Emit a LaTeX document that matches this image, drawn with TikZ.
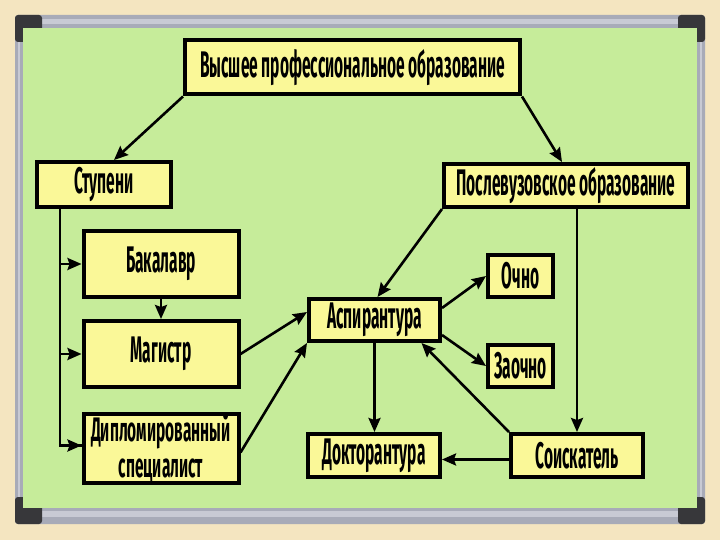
\documentclass[tikz,border=0pt]{standalone}
\usepackage{fontspec}
\setmainfont[FakeStretch=0.42]{Fira Sans}
\newfontfamily\dipfont[FakeStretch=0.455]{Fira Sans}
\usetikzlibrary{arrows.meta}
\definecolor{bgbeige}{RGB}{244,229,192}
\definecolor{framegray}{RGB}{168,171,184}
\definecolor{framelight}{RGB}{200,202,212}
\definecolor{darkcorner}{RGB}{55,55,58}
\definecolor{boardgreen}{RGB}{198,236,154}
\definecolor{boxyellow}{RGB}{250,248,152}
\begin{document}
\begin{tikzpicture}[x=1pt,y=-1pt,
  box/.style={draw=black, line width=4pt, fill=boxyellow, inner sep=0pt, align=center,
    font=\fontsize{37}{33}\selectfont\bfseries},
  conn/.style={line width=2.6pt, -{Stealth[length=14pt,width=12pt,inset=2pt]}},
  plain/.style={line width=2.6pt}]
\useasboundingbox (0,0) rectangle (720,540);
% board
\fill[bgbeige] (0,0) rectangle (720,540);
\fill[framegray, rounded corners=3pt] (15,15) rectangle (705,524);
\fill[framelight] (42,19) rectangle (678,24);
\fill[framelight] (42,511) rectangle (678,517);
\fill[framelight] (18,42) rectangle (20,497);
\fill[framelight] (700,42) rectangle (702,497);
\fill[darkcorner, rounded corners=3pt] (15,15) rectangle (42,42);
\fill[darkcorner, rounded corners=3pt] (678,15) rectangle (705,42);
\fill[darkcorner, rounded corners=3pt] (15,497) rectangle (42,524);
\fill[darkcorner, rounded corners=3pt] (678,497) rectangle (705,524);
\fill[boardgreen] (23,28) rectangle (697,508);
% nodes
\node[box, minimum width=335pt, minimum height=54pt] (top) at (352.5,67.5) {Высшее профессиональное образование};
\node[box, minimum width=134pt, minimum height=45pt] (stup) at (104,184.5) {Ступени};
\node[box, minimum width=244pt, minimum height=43pt] (post) at (566,185.5) {Послевузовское образование};
\node[box, minimum width=155pt, minimum height=66pt] (bak) at (161,264) {Бакалавр};
\node[box, minimum width=155pt, minimum height=66pt] (mag) at (161,354) {Магистр};
\node[box, minimum width=155pt, minimum height=67pt, font=\dipfont\fontsize{34}{36}\selectfont\bfseries] (dip) at (161,448.5) {Дипломированный\\специалист};
\node[box, minimum width=131pt, minimum height=42pt] (asp) at (374.5,320) {Аспирантура};
\node[box, minimum width=65pt, minimum height=42pt] (och) at (520.5,276) {Очно};
\node[box, minimum width=65pt, minimum height=42pt] (zao) at (520.5,366) {Заочно};
\node[box, minimum width=132pt, minimum height=43pt] (doc) at (374,455.5) {Докторантура};
\node[box, minimum width=132pt, minimum height=43pt] (soi) at (577,455.5) {Соискатель};
% connectors
\draw[conn] (top.south west) -- ([xshift=10pt]stup.north);
\draw[conn] (top.south east) -- ([xshift=-4pt]post.north);
\coordinate (sx) at ([xshift=25pt]stup.south west);
\coordinate (dipin) at ([yshift=3pt]dip.west);
\draw[plain] (sx) |- (dipin);
\draw[conn] (sx |- bak.west) -- (bak.west);
\draw[conn] (sx |- mag.west) -- (mag.west);
\draw[conn] (sx |- dipin) -- (dipin);
\draw[conn] (bak.south) -- (bak.south |- mag.north);
\draw[conn] (mag.east) -- ([yshift=8pt]asp.west);
\draw[conn] ([yshift=-4pt]dip.east) -- (asp.south west);
\draw[conn] (post.south west) -- ([xshift=3pt]asp.north);
\draw[conn] (soi.north |- post.south) -- (soi.north);
\draw[conn] ([yshift=12pt]asp.east) -- (och.west);
\draw[conn] ([yshift=-15pt]asp.east) -- (zao.west);
\draw[conn] (soi.north west) -- ([xshift=47pt]asp.south);
\draw[conn] (asp.south) -- (asp.south |- doc.north);
\draw[conn] ([yshift=-4pt]soi.west) -- ([yshift=-4pt]doc.east);
\end{tikzpicture}
\end{document}
